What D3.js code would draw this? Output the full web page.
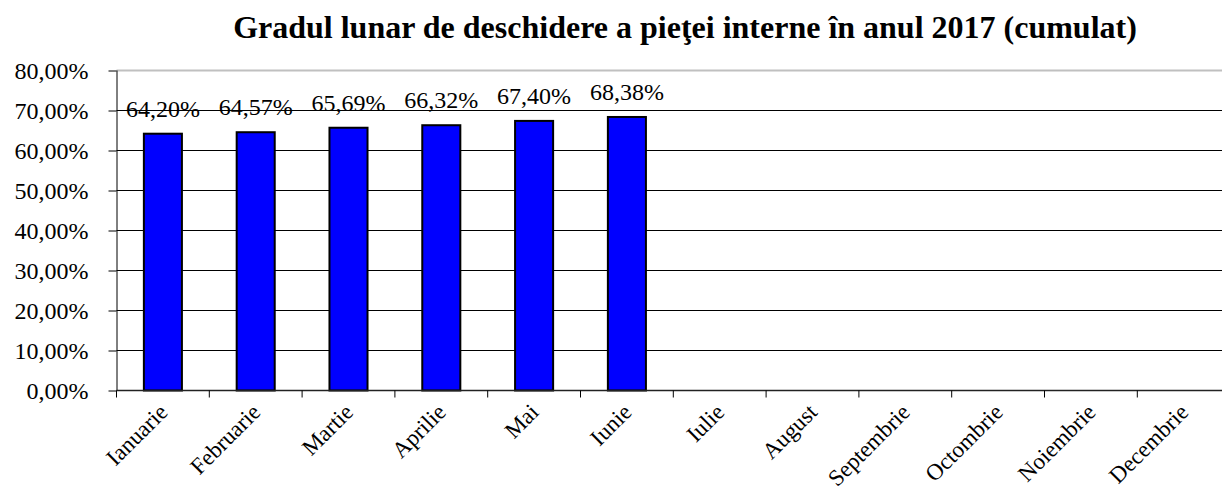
<!DOCTYPE html>
<html>
<head>
<meta charset="utf-8">
<script src="https://cdn.jsdelivr.net/npm/d3@7"></script>
<style>
  body { margin: 0; background: #fff; }
  svg { display: block; }
  svg text { font-family: "Liberation Serif", "Times New Roman", serif; }
</style>
</head>
<body>
<div id="chart"></div>
<script>
const months = ["Ianuarie", "Februarie", "Martie", "Aprilie", "Mai", "Iunie",
    "Iulie", "August", "Septembrie", "Octombrie", "Noiembrie", "Decembrie"];
const values = [64.20, 64.57, 65.69, 66.32, 67.40, 68.38, null, null, null, null, null, null];
const yTicks = [0, 10, 20, 30, 40, 50, 60, 70, 80];
const title = "Gradul lunar de deschidere a pieţei interne în anul 2017 (cumulat)";

const width = 1222, height = 492;
const margin = {top: 70.5, left: 116.5, bottom: 101.5};
const step = 92.8;

const fmt = v => v.toFixed(2).replace(".", ",") + "%";

const svg = d3.select("#chart").append("svg")
    .attr("width", width)
    .attr("height", height);

const x = d3.scaleBand()
    .domain(months)
    .range([margin.left, margin.left + step * months.length])
    .paddingInner(0.59)
    .paddingOuter(0.295);

const y = d3.scaleLinear()
    .domain([0, 80])
    .range([height - margin.bottom, margin.top]);

// title
svg.append("text")
    .attr("x", 685)
    .attr("y", 38)
    .attr("text-anchor", "middle")
    .attr("font-size", "32px")
    .attr("font-weight", "bold")
    .attr("fill", "#000")
    .text(title);

// gridlines
svg.append("g")
    .selectAll("line")
    .data(yTicks)
    .join("line")
    .attr("x1", margin.left)
    .attr("x2", x.range()[1])
    .attr("y1", d => y(d))
    .attr("y2", d => y(d))
    .attr("stroke", d => d === 80 ? "#c0c0c0" : "#000")
    .attr("stroke-width", d => d === 80 ? 2 : 1);

// y axis
const yAxis = svg.append("g")
    .attr("transform", `translate(${margin.left},0)`)
    .call(d3.axisLeft(y).tickValues(yTicks).tickSize(8).tickPadding(20).tickFormat(fmt));
yAxis.selectAll("text")
    .attr("font-size", "24px")
    .attr("fill", "#000");
yAxis.selectAll("line, path").attr("stroke", "#000");
yAxis.select(".domain").attr("d", `M0.5,${y(80)}V${y(0)}`);

// bars
const barData = months.map((m, i) => ({month: m, value: values[i]})).filter(d => d.value != null);

svg.append("g")
    .selectAll("rect")
    .data(barData)
    .join("rect")
    .attr("x", d => x(d.month))
    .attr("y", d => y(d.value))
    .attr("width", x.bandwidth())
    .attr("height", d => y(0) - y(d.value))
    .attr("fill", "#0000ff")
    .attr("stroke", "#000")
    .attr("stroke-width", 2);

// value labels
svg.append("g")
    .selectAll("text")
    .data(barData)
    .join("text")
    .attr("x", d => x(d.month) + x.bandwidth() / 2)
    .attr("y", d => y(d.value) - 17)
    .attr("text-anchor", "middle")
    .attr("font-size", "24px")
    .attr("fill", "#000")
    .text(d => fmt(d.value));

// x axis
const xAxisG = svg.append("g")
    .attr("transform", `translate(0,${y(0)})`);
xAxisG.append("line")
    .attr("x1", margin.left)
    .attr("x2", x.range()[1])
    .attr("stroke", "#222")
    .attr("stroke-width", 1.5);
xAxisG.selectAll(".tick")
    .data(d3.range(months.length + 1))
    .join("line")
    .attr("class", "tick")
    .attr("x1", i => margin.left + i * x.step())
    .attr("x2", i => margin.left + i * x.step())
    .attr("y1", 0)
    .attr("y2", 7)
    .attr("stroke", "#000");

xAxisG.selectAll(".lbl")
    .data(months)
    .join("text")
    .attr("class", "lbl")
    .attr("font-size", "23px")
    .attr("fill", "#000")
    .attr("text-anchor", "end")
    .attr("transform", d => `translate(${x(d) + x.bandwidth() / 2 + 6},${23}) rotate(-45)`)
    .text(d => d);
</script>
</body>
</html>
